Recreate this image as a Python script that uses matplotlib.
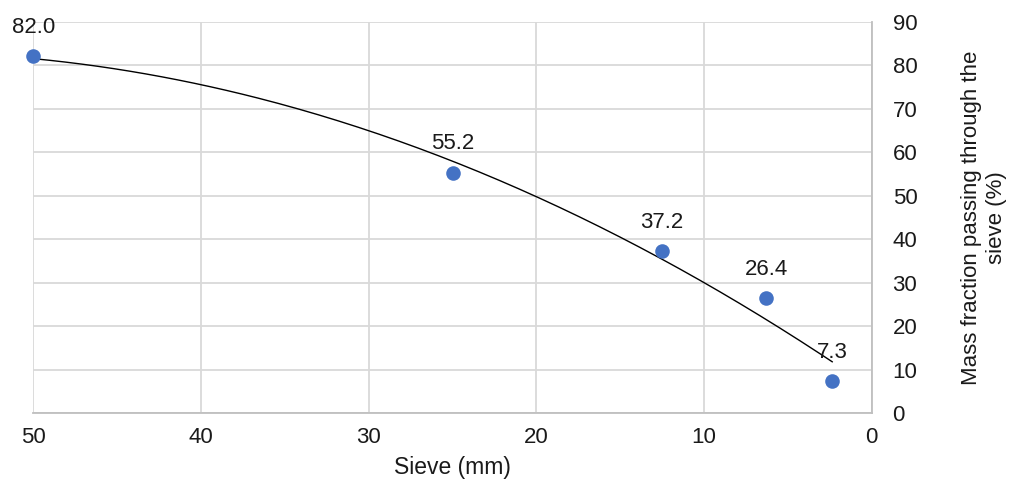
import matplotlib.pyplot as plt
import numpy as np

plt.rcParams["font.family"] = ["Liberation Sans", "DejaVu Sans"]

# sieve opening (mm) and mass fraction passing (%)
sieve_mm = [50, 25, 12.5, 6.3, 2.36]
passing = [82.0, 55.2, 37.2, 26.4, 7.3]

x_ticks = [50, 40, 30, 20, 10, 0]
y_ticks = [0, 10, 20, 30, 40, 50, 60, 70, 80, 90]

BLUE = "#4472C4"
GRID = "#d9d9d9"
AXIS = "#bfbfbf"
TXT = "#1a1a1a"
FS = 16

fig = plt.figure(figsize=(10.09, 4.82), dpi=100)
ax = fig.add_axes([0.033, 0.143, 0.831, 0.812])

# polynomial (order 2) trendline like the spreadsheet
coef = np.polyfit(sieve_mm, passing, 2)
xs = np.linspace(max(sieve_mm), min(sieve_mm), 200)
ax.plot(xs, np.polyval(coef, xs), color="black", lw=1.0, zorder=3)

ax.scatter(sieve_mm, passing, s=110, color=BLUE, zorder=4, linewidths=0,
           clip_on=False)
for x, y in zip(sieve_mm, passing):
    ax.annotate(f"{y:.1f}", (x, y), xytext=(0, 21), textcoords="offset points",
                ha="center", va="center", fontsize=FS, color=TXT, zorder=5)

ax.set_xlim(50, 0)
ax.set_ylim(0, 90)
ax.set_xticks(x_ticks)
ax.set_yticks(y_ticks)
ax.yaxis.tick_right()
ax.yaxis.set_label_position("right")
ax.tick_params(length=0, labelsize=FS, colors=TXT, pad=10)
ax.tick_params(axis="y", pad=15)

ax.grid(True, color=GRID, lw=1.3)
ax.set_axisbelow(True)
for side in ["top", "left"]:
    ax.spines[side].set_visible(False)
for side in ["bottom", "right"]:
    ax.spines[side].set_color(AXIS)
    ax.spines[side].set_linewidth(1.3)

ax.set_xlabel("Sieve (mm)", fontsize=FS + 0.5, color=TXT, labelpad=6)
ax.set_ylabel("Mass fraction passing through the\nsieve (%)", fontsize=FS,
              color=TXT, rotation=90, labelpad=31, linespacing=1.25)

fig.savefig("out.png", dpi=100)
